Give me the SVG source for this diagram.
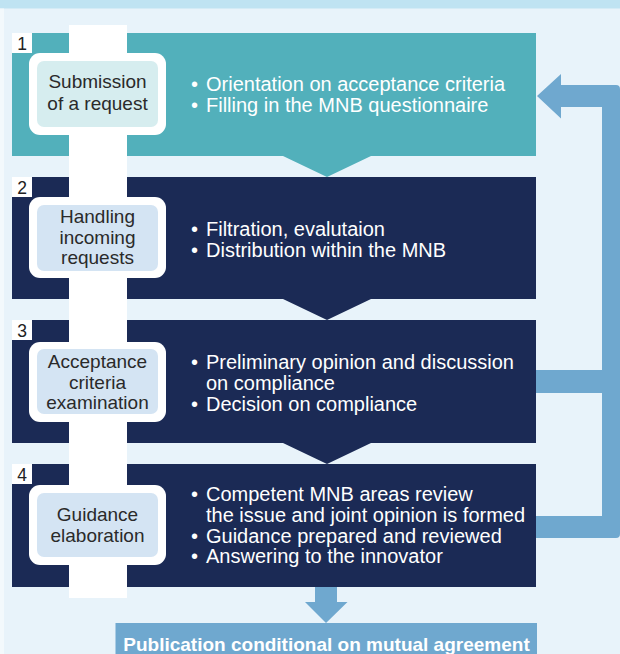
<svg xmlns="http://www.w3.org/2000/svg" width="620" height="654" viewBox="0 0 620 654">
<style>
.bg{fill:#e8f3fa}
.teal{fill:#52b0bb}
.navy{fill:#1b2a55}
.strip{fill:#ffffff}
.outer{fill:#ffffff}
.inT{fill:#d6edef}
.inN{fill:#d4e4f3}
.num{fill:#ffffff}
.numt{font-family:"Liberation Sans",Arial,sans-serif;font-size:17.5px;fill:#222222;text-anchor:middle}
.lab{font-family:"Liberation Sans",Arial,sans-serif;font-size:19px;fill:#2a2a2a;text-anchor:middle}
.bul{font-family:"Liberation Sans",Arial,sans-serif;font-size:20px;fill:#ffffff}
.conn{fill:#6fa8cf}
.pub{font-family:"Liberation Sans",Arial,sans-serif;font-size:19px;font-weight:bold;fill:#ffffff;text-anchor:middle}
</style>
<rect class="bg" x="0" y="0" width="620" height="654"/>
<rect x="0" y="0" width="620" height="8.5" fill="#bfe3f2"/>
<rect x="0" y="8.5" width="4" height="646" fill="#f3f9fc"/>
<rect class="strip" x="69" y="25" width="58" height="573"/>

<g id="connectors">
  <path class="conn" d="M561,74 L537,96 L561,118.5 L561,107 L602,107 L602,516 L536,516 L536,538 L616,538 Q620,538 620,534 L620,89 Q620,85 616,85 L561,85 Z"/>
  <rect class="conn" x="536" y="370" width="66" height="23"/>
  <path class="conn" d="M315,587 H337 V602 H347.5 L326,623 L305,602 H315 Z"/>
</g>

<g id="node1">
  <path class="teal" d="M12,33 H536 V156 H371 L327,177 L283,156 H12 Z"/>
  <rect class="strip" x="69" y="33" width="58" height="123"/>
  <rect class="num" x="12" y="33" width="20" height="20"/>
  <text class="numt" x="22" y="49.5">1</text>
  <rect class="outer" x="29" y="53" width="137" height="82" rx="11"/>
  <rect class="inT" x="37" y="61" width="121" height="66" rx="7"/>
  <text class="lab" x="97.5" y="87.5">Submission</text>
  <text class="lab" x="97.5" y="109.5">of a request</text>
  <text class="bul" y="90.5"><tspan x="191">•</tspan><tspan x="206">Orientation on acceptance criteria</tspan></text>
  <text class="bul" y="111.5"><tspan x="191">•</tspan><tspan x="206">Filling in the MNB questionnaire</tspan></text>
</g>

<g id="node2">
  <path class="navy" d="M12,177 H536 V299 H371 L327,320 L283,299 H12 Z"/>
  <rect class="strip" x="69" y="177" width="58" height="122"/>
  <rect class="num" x="12" y="177" width="20" height="20"/>
  <text class="numt" x="22" y="193.5">2</text>
  <rect class="outer" x="29" y="197" width="137" height="81" rx="11"/>
  <rect class="inN" x="37" y="205" width="121" height="66" rx="7"/>
  <text class="lab" x="97.5" y="223">Handling</text>
  <text class="lab" x="97.5" y="243.5">incoming</text>
  <text class="lab" x="97.5" y="264">requests</text>
  <text class="bul" y="236"><tspan x="191">•</tspan><tspan x="206">Filtration, evalutaion</tspan></text>
  <text class="bul" y="256.5"><tspan x="191">•</tspan><tspan x="206">Distribution within the MNB</tspan></text>
</g>

<g id="node3">
  <path class="navy" d="M12,320 H536 V443 H371 L327,464 L283,443 H12 Z"/>
  <rect class="strip" x="69" y="320" width="58" height="123"/>
  <rect class="num" x="12" y="320" width="20" height="20"/>
  <text class="numt" x="22" y="336.5">3</text>
  <rect class="outer" x="29" y="342" width="137" height="80" rx="11"/>
  <rect class="inN" x="37" y="349" width="121" height="65" rx="7"/>
  <text class="lab" x="97.5" y="368">Acceptance</text>
  <text class="lab" x="97.5" y="388.5">criteria</text>
  <text class="lab" x="97.5" y="409">examination</text>
  <text class="bul" y="369"><tspan x="191">•</tspan><tspan x="206">Preliminary opinion and discussion</tspan></text>
  <text class="bul" x="206" y="390">on compliance</text>
  <text class="bul" y="411"><tspan x="191">•</tspan><tspan x="206">Decision on compliance</tspan></text>
</g>

<g id="node4">
  <rect class="navy" x="12" y="464" width="524" height="123"/>
  <rect class="strip" x="69" y="464" width="58" height="134"/>
  <rect class="num" x="12" y="464" width="20" height="20"/>
  <text class="numt" x="22" y="480.5">4</text>
  <rect class="outer" x="29" y="485" width="137" height="80" rx="11"/>
  <rect class="inN" x="37" y="493" width="121" height="64" rx="7"/>
  <text class="lab" x="97.5" y="521">Guidance</text>
  <text class="lab" x="97.5" y="541.5">elaboration</text>
  <text class="bul" y="500.5"><tspan x="191">•</tspan><tspan x="206">Competent MNB areas review</tspan></text>
  <text class="bul" x="206" y="521.5">the issue and joint opinion is formed</text>
  <text class="bul" y="542.5"><tspan x="191">•</tspan><tspan x="206">Guidance prepared and reviewed</tspan></text>
  <text class="bul" y="563"><tspan x="191">•</tspan><tspan x="206">Answering to the innovator</tspan></text>
</g>

<g id="publication">
  <rect class="conn" x="115.5" y="623" width="421.5" height="40"/>
  <text class="pub" x="326.5" y="651">Publication conditional on mutual agreement</text>
</g>
</svg>
